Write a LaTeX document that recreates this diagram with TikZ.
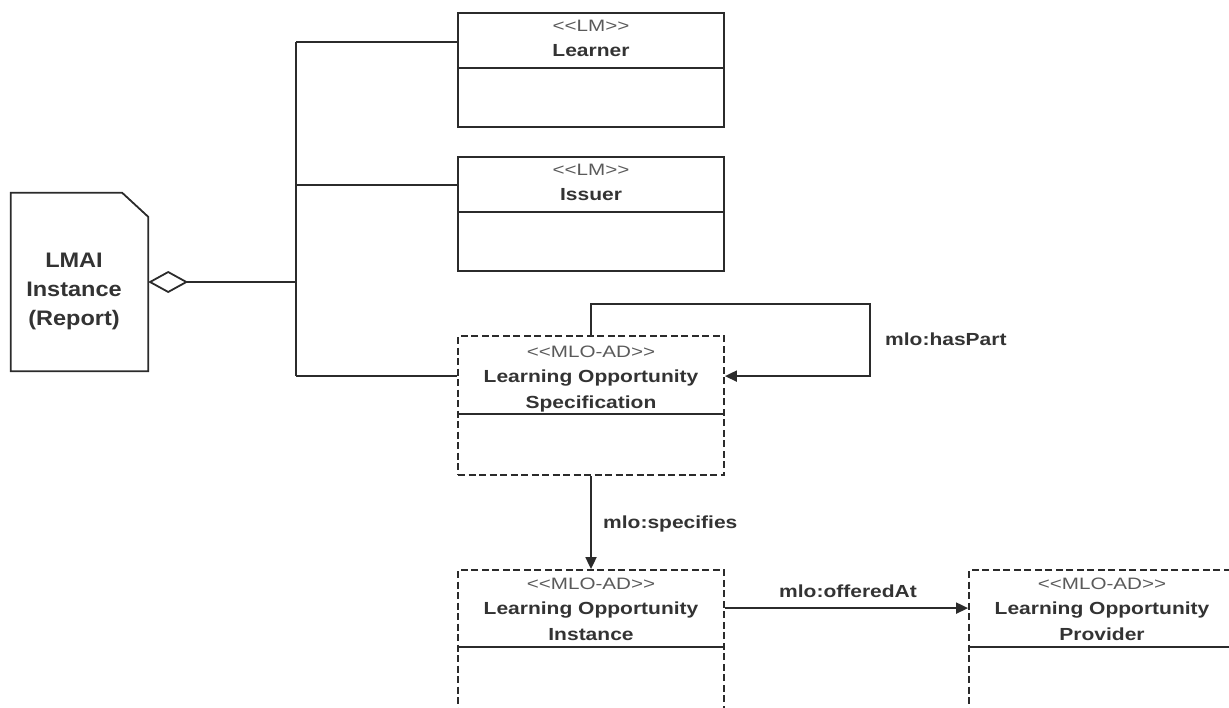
\documentclass[tikz,border=0pt]{standalone}
\usepackage{fontspec}
\setmainfont{Liberation Sans}
\newfontfamily\wideFont[FakeStretch=1.2]{Liberation Sans}
\newfontfamily\stereoFont[FakeStretch=1.25]{Liberation Sans}
\newfontfamily\docFont[FakeStretch=1.12]{Liberation Sans}
\usetikzlibrary{arrows.meta,calc}
\definecolor{ink}{HTML}{2B2B2B}
\definecolor{txt}{HTML}{333333}
\definecolor{stereo}{HTML}{5A5A5A}
\begin{document}
\begin{tikzpicture}[x=1pt,y=-1pt,
  classbox/.style={rectangle, draw=ink, line width=1.8pt, inner sep=0pt,
    minimum width=266pt, minimum height=114pt},
  mlobox/.style={classbox, dash pattern=on 7pt off 3.5pt, minimum height=139pt},
  stereotype/.style={anchor=base, inner sep=0pt, text=stereo,
    font=\stereoFont\fontsize{16.5}{20}\selectfont},
  clsname/.style={anchor=base, align=center, inner sep=0pt, text=txt,
    font=\wideFont\bfseries\fontsize{17.5}{26}\selectfont},
  rellabel/.style={inner sep=0pt, text=txt,
    font=\wideFont\bfseries\fontsize{17.5}{26}\selectfont},
  link/.style={draw=ink, line width=1.8pt},
  arrowlink/.style={link, -{Triangle[length=12pt,width=11pt]}}
]
\useasboundingbox (0,0) rectangle (1229,707);
\clip (0,0) rectangle (1229,707);

% class boxes
\node[classbox] (learner) at (591,70) {};
\node[classbox] (issuer) at (591,214) {};
\node[mlobox] (los) at (591,405.5) {};
\node[mlobox] (loi) at (591,639.5) {};
\node[mlobox] (lop) at (1102,639.5) {};

% dividers
\draw[link] ($(learner.north west)+(0,56)$) -- ($(learner.north east)+(0,56)$);
\draw[link] ($(issuer.north west)+(0,56)$) -- ($(issuer.north east)+(0,56)$);
\draw[link] ($(los.north west)+(0,79)$) -- ($(los.north east)+(0,79)$);
\draw[link] ($(loi.north west)+(0,78)$) -- ($(loi.north east)+(0,78)$);
\draw[link] ($(lop.north west)+(0,78)$) -- ($(lop.north east)+(0,78)$);

% texts (base anchor of a multi-line node = baseline of its last line)
\node[stereotype] (learnerSt) at ($(learner.north)+(0,19)$) {<<LM>>};
\node[clsname] (learnerName) at ($(learner.north)+(0,44)$) {Learner};
\node[stereotype] (issuerSt) at ($(issuer.north)+(0,19)$) {<<LM>>};
\node[clsname] (issuerName) at ($(issuer.north)+(0,44)$) {Issuer};
\node[stereotype] (losSt) at ($(los.north)+(0,22)$) {<<MLO-AD>>};
\node[clsname] (losName) at ($(los.north)+(0,73)$) {Learning Opportunity\\Specification};
\node[stereotype] (loiSt) at ($(loi.north)+(0,20)$) {<<MLO-AD>>};
\node[clsname] (loiName) at ($(loi.north)+(0,71)$) {Learning Opportunity\\Instance};
\node[stereotype] (lopSt) at ($(lop.north)+(0,20)$) {<<MLO-AD>>};
\node[clsname] (lopName) at ($(lop.north)+(0,71)$) {Learning Opportunity\\Provider};

% document shape
\node[rectangle, inner sep=0pt, minimum width=137pt, minimum height=178pt] (lmai) at (79.5,282) {};
\draw[link, line join=miter] (lmai.north west) -- ($(lmai.north east)+(-26,0)$) -- ($(lmai.north east)+(0,24)$)
  -- (lmai.south east) -- (lmai.south west) -- cycle;
\node[anchor=base, align=center, inner sep=0pt, text=txt,
  font=\docFont\bfseries\fontsize{21}{29}\selectfont] (lmaiText) at (74,325) {LMAI\\Instance\\(Report)};

% aggregation bus
\coordinate (busMid) at (296,282);
\coordinate (busTop) at (296,42);
\coordinate (busIss) at (296,185);
\coordinate (busBot) at (296,376);
\draw[link, line join=miter, {Diamond[open,length=40pt,width=22pt]}-] (lmai.east) -- (busMid);
\draw[link] (busTop) -- (busBot);
\draw[link] (busTop) -- (busTop -| learner.west);
\draw[link] (busIss) -- (busIss -| issuer.west);
\draw[link] (busBot) -- (busBot -| los.west);

% self loop hasPart
\coordinate (loopCorner) at (870,304);
\coordinate (losIn) at ($(los.north east)+(0,41)$);
\draw[arrowlink] (los.north) |- (loopCorner) |- (losIn);
\node[rellabel, anchor=base west] (hasPart) at (885,345) {mlo:hasPart};

% specifies
\draw[arrowlink] (los.south) -- (loi.north);
\node[rellabel, anchor=base west] (specifies) at (603,528) {mlo:specifies};

% offeredAt
\draw[arrowlink] ($(loi.north east)+(0,39)$) -- ($(lop.north west)+(0,39)$);
\node[rellabel, anchor=base] (offeredAt) at (848,597) {mlo:offeredAt};
\end{tikzpicture}
\end{document}
